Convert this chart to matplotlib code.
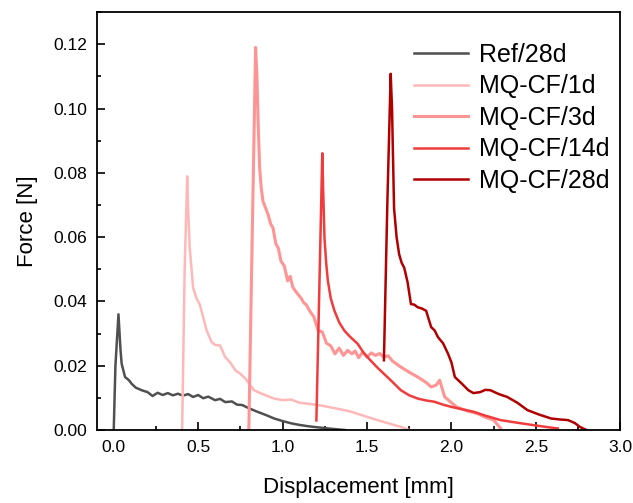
import matplotlib.pyplot as plt
from matplotlib.ticker import MultipleLocator

plt.rcParams['font.family'] = ['Liberation Sans', 'DejaVu Sans']

# displacement [mm] / force [N]
ref_x = [0.0, 0.01, 0.028, 0.04, 0.047, 0.067, 0.09, 0.106, 0.13, 0.165, 0.2, 0.23, 0.26, 0.29,
         0.32, 0.35, 0.38, 0.41, 0.44, 0.47, 0.5, 0.53, 0.56, 0.6, 0.63, 0.66, 0.7, 0.73, 0.76,
         0.8, 0.85, 0.9, 0.95, 1.0, 1.05, 1.1, 1.15, 1.2, 1.27, 1.33, 1.37]
ref_y = [0.0, 0.02, 0.036, 0.025, 0.0206, 0.0165, 0.0155, 0.0144, 0.0132, 0.0124, 0.0118, 0.0106,
         0.0116, 0.0109, 0.0115, 0.0108, 0.0113, 0.0107, 0.0112, 0.0103, 0.0109, 0.0099, 0.0104,
         0.0093, 0.0097, 0.0087, 0.0089, 0.0079, 0.0078, 0.0068, 0.0057, 0.0047, 0.0036, 0.0028,
         0.0021, 0.0016, 0.0012, 0.0009, 0.0005, 0.0002, 0.0]

cf1_x = [0.405, 0.42, 0.435, 0.44, 0.45, 0.47, 0.49, 0.51, 0.53, 0.55, 0.58, 0.6, 0.63, 0.66, 0.69,
         0.72, 0.75, 0.78, 0.83, 0.88, 0.95, 1.0, 1.05, 1.1, 1.15, 1.23, 1.31, 1.4, 1.5, 1.6,
         1.7, 1.75]
cf1_y = [0.0, 0.05, 0.0789, 0.07, 0.0567, 0.0443, 0.041, 0.039, 0.035, 0.031, 0.0273, 0.0265,
         0.0263, 0.0227, 0.021, 0.0186, 0.0175, 0.016, 0.0124, 0.0112, 0.0098, 0.0093, 0.0095,
         0.0085, 0.0082, 0.0076, 0.0068, 0.0058, 0.0041, 0.0025, 0.001, 0.0]

cf3_x = [0.80, 0.82, 0.84, 0.848, 0.855, 0.864, 0.874, 0.884, 0.9, 0.914, 0.93, 0.943, 0.96,
         0.975, 0.99, 1.01, 1.03, 1.045, 1.06, 1.075, 1.09, 1.11, 1.125, 1.14, 1.16, 1.185, 1.21,
         1.235, 1.26, 1.285, 1.31, 1.335, 1.36, 1.385, 1.41, 1.43, 1.45, 1.475, 1.5, 1.525, 1.55,
         1.575, 1.6, 1.625, 1.65, 1.7, 1.75, 1.8, 1.85, 1.88, 1.91, 1.93, 1.96, 2.0, 2.03, 2.09,
         2.15, 2.2, 2.25, 2.29]
cf3_y = [0.0, 0.06, 0.119, 0.11, 0.0959, 0.0814, 0.075, 0.0711, 0.069, 0.067, 0.064, 0.0629,
         0.058, 0.0565, 0.0526, 0.051, 0.0464, 0.0478, 0.0445, 0.0433, 0.0423, 0.041, 0.0396,
         0.039, 0.0371, 0.0352, 0.031, 0.0305, 0.027, 0.0262, 0.0237, 0.0255, 0.0232, 0.0248,
         0.0237, 0.0246, 0.0225, 0.0243, 0.0227, 0.0240, 0.0232, 0.0238, 0.0227, 0.0231, 0.0215,
         0.0196, 0.018, 0.0165, 0.0148, 0.0134, 0.014, 0.0155, 0.0103, 0.0085, 0.0072, 0.006,
         0.0052, 0.004, 0.0031, 0.0006]

cf14_x = [1.20, 1.22, 1.235, 1.24, 1.248, 1.258, 1.268, 1.285, 1.307, 1.335, 1.366, 1.40, 1.445,
          1.48, 1.52, 1.56, 1.6, 1.65, 1.7, 1.75, 1.8, 1.85, 1.9, 1.95, 2.0, 2.06, 2.13, 2.2,
          2.29, 2.4, 2.49, 2.57, 2.63]
cf14_y = [0.003, 0.05, 0.0861, 0.075, 0.0598, 0.052, 0.0464, 0.041, 0.0371, 0.0335, 0.0309, 0.029,
          0.0268, 0.024, 0.0217, 0.0195, 0.0175, 0.015, 0.0124, 0.0108, 0.0098, 0.0092, 0.0088,
          0.0079, 0.0072, 0.0065, 0.0057, 0.0045, 0.0031, 0.0022, 0.0015, 0.0009, 0.0005]

cf28_x = [1.60, 1.62, 1.64, 1.648, 1.66, 1.675, 1.69, 1.705, 1.72, 1.74, 1.76, 1.78, 1.80, 1.825,
          1.85, 1.865, 1.88, 1.9, 1.92, 1.95, 1.98, 2.0, 2.02, 2.06, 2.1, 2.13, 2.17, 2.2, 2.23,
          2.28, 2.33, 2.39, 2.45, 2.52, 2.59, 2.64, 2.69, 2.73, 2.76, 2.8]
cf28_y = [0.0217, 0.07, 0.1108, 0.1, 0.069, 0.06, 0.0547, 0.052, 0.0505, 0.046, 0.0392, 0.039,
          0.0382, 0.0378, 0.0371, 0.0345, 0.032, 0.031, 0.0289, 0.027, 0.0237, 0.021, 0.0165,
          0.0145, 0.0124, 0.0115, 0.0118, 0.0125, 0.0124, 0.0112, 0.0103, 0.0085, 0.0062, 0.0048,
          0.0036, 0.0033, 0.0031, 0.0022, 0.001, 0.0]

series = [
    ("Ref/28d", ref_x, ref_y, "#505050", 1.8),
    ("MQ-CF/1d", cf1_x, cf1_y, "#ffb8b8", 1.8),
    ("MQ-CF/3d", cf3_x, cf3_y, "#ff9494", 2.2),
    ("MQ-CF/14d", cf14_x, cf14_y, "#f03c3c", 1.8),
    ("MQ-CF/28d", cf28_x, cf28_y, "#b00000", 1.8),
]

fig = plt.figure(figsize=(6.33, 5.03), dpi=100)
ax = fig.add_axes([0.153, 0.145, 0.827, 0.831])

for name, x, y, c, lw in series:
    ax.plot(x, y, color=c, lw=lw, label=name)

ax.set_xlim(-0.1, 3.0)
ax.set_ylim(0, 0.13)
ax.xaxis.set_minor_locator(MultipleLocator(0.25))
ax.yaxis.set_minor_locator(MultipleLocator(0.01))
ax.set_yticks([0.0, 0.02, 0.04, 0.06, 0.08, 0.10, 0.12])
ax.set_yticklabels(["0.00", "0.02", "0.04", "0.06", "0.08", "0.10", "0.12"])
ax.set_xticks([0.0, 0.5, 1.0, 1.5, 2.0, 2.5, 3.0])
ax.set_xticklabels(["0.0", "0.5", "1.0", "1.5", "2.0", "2.5", "3.0"])
ax.tick_params(which='both', direction='in', labelsize=12.5, width=1.2)
ax.tick_params(which='major', length=6, pad=7)
ax.tick_params(which='minor', length=3)
for s in ax.spines.values():
    s.set_linewidth(1.3)

ax.set_xlabel("Displacement [mm]", fontsize=16, labelpad=16)
ax.set_ylabel("Force [N]", fontsize=16, labelpad=11)

ax.legend(loc='upper right', frameon=False, fontsize=18, handlelength=2.15,
          handletextpad=0.45, labelspacing=0.3, bbox_to_anchor=(1.022, 0.98))

fig.savefig("out.png", dpi=100)
